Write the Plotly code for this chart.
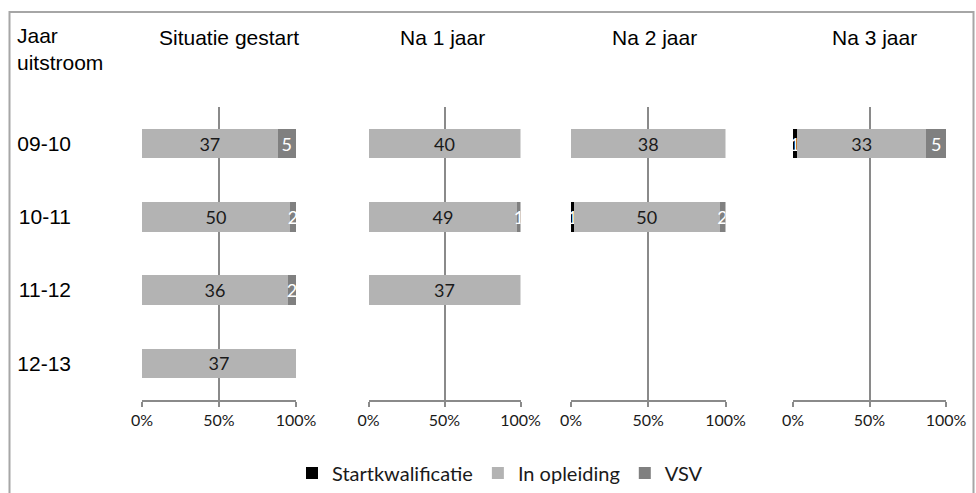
import plotly.graph_objects as go

rows = ['09-10', '10-11', '11-12', '12-13']
panels = ['Situatie gestart', 'Na 1 jaar', 'Na 2 jaar', 'Na 3 jaar']
series = ['Startkwalificatie', 'In opleiding', 'VSV']

startkwalificatie = {
    'Situatie gestart': [None, None, None, None],
    'Na 1 jaar': [None, None, None, None],
    'Na 2 jaar': [None, 1, None, None],
    'Na 3 jaar': [1, None, None, None],
}
in_opleiding = {
    'Situatie gestart': [37, 50, 36, 37],
    'Na 1 jaar': [40, 49, 37, None],
    'Na 2 jaar': [38, 50, None, None],
    'Na 3 jaar': [33, None, None, None],
}
vsv = {
    'Situatie gestart': [5, 2, 2, None],
    'Na 1 jaar': [None, 1, None, None],
    'Na 2 jaar': [None, 2, None, None],
    'Na 3 jaar': [5, None, None, None],
}
tick_vals = [0, 50, 100]
tick_text = ['0%', '50%', '100%']

colors = {'Startkwalificatie': '#000000', 'In opleiding': '#b3b3b3', 'VSV': '#808080'}
label_colors = {'Startkwalificatie': '#ffffff', 'In opleiding': '#1a1a1a', 'VSV': '#ffffff'}
data_by_series = {'Startkwalificatie': startkwalificatie, 'In opleiding': in_opleiding, 'VSV': vsv}

W, H = 976, 493
# panel pixel extents (0% .. 100%)
panel_px = [(142, 296), (368.5, 520.5), (571, 725.5), (793, 946)]
title_px = [228.5, 442, 654, 874]
y_top, y_bot = 107, 400

TICK_FONT = 'Lato, Carlito, Calibri, sans-serif'
ARIAL = 'Liberation Sans, Arial, sans-serif'

fig = go.Figure()
for i, p in enumerate(panels):
    ax = '' if i == 0 else str(i + 1)
    for s in series:
        vals = data_by_series[s][p]
        fig.add_trace(go.Bar(
            name=s, orientation='h', y=rows, x=vals,
            text=[('' if v is None else str(v)) for v in vals],
            textposition='inside', textangle=0, insidetextanchor='middle',
            textfont=dict(family=TICK_FONT, size=18, color=label_colors[s]),
            marker=dict(color=colors[s], line=dict(width=0)),
            xaxis='x' + ax, yaxis='y' + ax,
            showlegend=(i == 0), legendgroup=s, hoverinfo='skip',
        ))

layout = dict(
    width=W, height=H, autosize=False,
    margin=dict(l=0, r=0, t=0, b=0, pad=0, autoexpand=False),
    paper_bgcolor='white', plot_bgcolor='rgba(0,0,0,0)',
    barmode='stack', barnorm='percent', bargap=0.6,
    uniformtext=dict(minsize=18, mode='show'),
    showlegend=True,
    legend=dict(orientation='h', x=500 / W, y=1 - 473 / H, xanchor='center', yanchor='middle',
                font=dict(family=TICK_FONT, size=20, color='#1a1a1a'), traceorder='normal',
                bgcolor='rgba(0,0,0,0)'),
)
ydom = [1 - y_bot / H, 1 - y_top / H]
for i, p in enumerate(panels):
    ax = '' if i == 0 else str(i + 1)
    x0, x1 = panel_px[i]
    layout['xaxis' + ax] = dict(
        domain=[x0 / W, x1 / W], range=[0, 100], anchor='y' + ax, automargin=False,
        tickvals=tick_vals, ticktext=tick_text, ticks='outside', ticklen=5, tickwidth=1.5,
        tickcolor='#8a8a8a', showline=True, linecolor='#8a8a8a', linewidth=1.5,
        showgrid=True, gridcolor='#8a8a8a', gridwidth=1.5, zeroline=False,
        tickfont=dict(family=TICK_FONT, size=16, color='#1a1a1a'), fixedrange=True,
    )
    yax = dict(
        domain=ydom, type='category', categoryorder='array', categoryarray=rows, automargin=False,
        range=[3.5, -0.5], showgrid=False, zeroline=False, showline=False, fixedrange=True,
    )
    if i == 0:
        yax.update(anchor='free', position=71 / W, ticks='', showticklabels=True,
                   tickfont=dict(family=ARIAL, size=21, color='#000000'))
    else:
        yax.update(anchor='x' + ax, showticklabels=False, ticks='')
    layout['yaxis' + ax] = yax

annotations = []
for i, p in enumerate(panels):
    annotations.append(dict(text=p, x=title_px[i] / W, y=1 - 37 / H, xref='paper', yref='paper',
                            xanchor='center', yanchor='middle', showarrow=False,
                            font=dict(family=ARIAL, size=21, color='#000000')))
annotations.append(dict(text='Jaar<br>uitstroom', x=15 / W, y=1 - 49 / H, xref='paper', yref='paper',
                        xanchor='left', yanchor='middle', align='left', showarrow=False,
                        font=dict(family=ARIAL, size=21, color='#000000')))
layout['annotations'] = annotations
layout['shapes'] = [dict(type='rect', xref='paper', yref='paper', x0=9.5 / W, x1=973.5 / W,
                         y0=-0.2, y1=1 - 12 / H, line=dict(color='#a6a6a6', width=2), layer='below')]

fig.update_layout(**layout)
fig.write_html('out.html', config={'responsive': False, 'displayModeBar': False},
               post_script="document.body.style.margin='0';document.body.style.overflow='hidden';")
